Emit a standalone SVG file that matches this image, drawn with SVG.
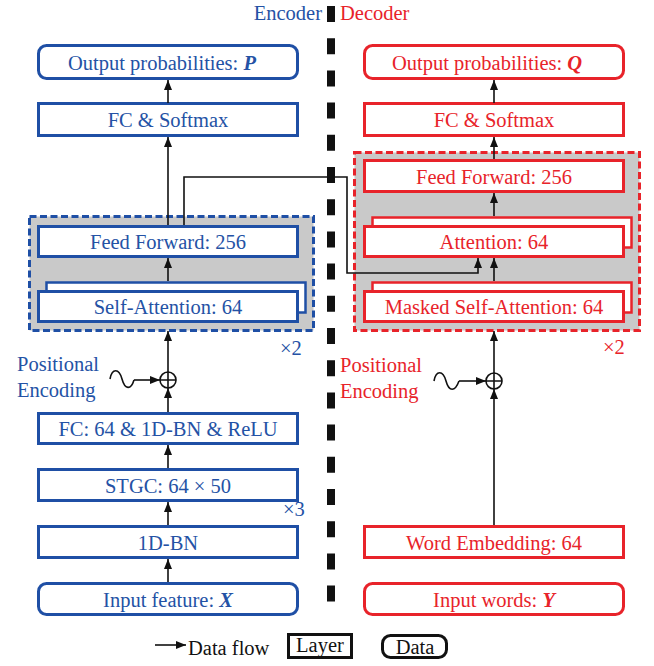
<svg xmlns="http://www.w3.org/2000/svg" width="654" height="666" viewBox="0 0 654 666">
<defs>
<style>
text{font-family:Liberation Serif,DejaVu Serif,serif;font-size:20.5px}
.b{stroke:#1f4fa5;fill:#fff;stroke-width:3}
.r{stroke:#e8232a;fill:#fff;stroke-width:3}
.bk{stroke:#1f4fa5;fill:#fff;stroke-width:2.5}
.rk{stroke:#e8232a;fill:#fff;stroke-width:2.5}
.bd{stroke:#1f4fa5;fill:#c9c9c9;stroke-width:3;stroke-dasharray:7 3.5}
.rd{stroke:#e8232a;fill:#c9c9c9;stroke-width:3;stroke-dasharray:7 3.5}
.tb{fill:#2452a5;text-anchor:middle}
.tr{fill:#e8232a;text-anchor:middle}
.lb{fill:#2452a5}
.lr{fill:#e8232a}
.a{stroke:#111;stroke-width:1.6;fill:none;marker-end:url(#ah)}
.l{stroke:#111;stroke-width:1.6;fill:none}
.v{font-weight:bold;font-style:italic}
</style>
<marker id="ah" markerUnits="userSpaceOnUse" markerWidth="10" markerHeight="8" viewBox="0 0 10 8" refX="10" refY="4" orient="auto">
<path d="M0,0 L10,4 L0,8 z" fill="#111"/>
</marker>
</defs>
<rect width="654" height="666" fill="#fff"/>

<!-- center divider -->
<line x1="331" y1="6" x2="331" y2="602" stroke="#111" stroke-width="8" stroke-dasharray="16 16.2"/>
<text x="322" y="20" class="lb" text-anchor="end">Encoder</text>
<text x="340" y="20" class="lr">Decoder</text>

<!-- encoder -->
<g id="enc-output"><rect class="b" x="38.5" y="45.5" width="259" height="33" rx="8"/><text class="tb" x="162" y="70">Output probabilities: <tspan class="v">P</tspan></text></g>
<g id="enc-fc-softmax"><rect class="b" x="38.5" y="103.5" width="259" height="32"/><text class="tb" x="168" y="127">FC &amp; Softmax</text></g>
<g id="enc-block"><rect class="bd" x="29.5" y="216.5" width="284" height="114"/></g>
<g id="enc-ff"><rect class="b" x="38.5" y="226.5" width="259" height="30"/><text class="tb" x="168" y="249">Feed Forward: 256</text></g>
<g id="enc-sa"><rect class="bk" x="46.5" y="282.5" width="259" height="30"/><rect class="b" x="38.5" y="291.5" width="259" height="30"/><text class="tb" x="168" y="314">Self-Attention: 64</text></g>
<g id="enc-x2"><text class="lb" x="280" y="355">×2</text></g>
<g id="enc-pe"><text class="lb" x="17" y="371">Positional</text><text class="lb" x="17" y="397">Encoding</text>
<path class="l" d="M110,379 C112,368 119,368 122,379 C125,390 131,390 134,380"/>
<circle cx="168" cy="380" r="8" fill="#fff" stroke="#111" stroke-width="1.6"/><path class="l" d="M160,380 H176 M168,372 V388"/></g>
<g id="enc-fc64"><rect class="b" x="38.5" y="413.5" width="259" height="30"/><text class="tb" x="168" y="436">FC: 64 &amp; 1D-BN &amp; ReLU</text></g>
<g id="enc-stgc"><rect class="b" x="38.5" y="469.5" width="259" height="31"/><text class="tb" x="168" y="492.5">STGC: 64 × 50</text></g>
<g id="enc-x3"><text class="lb" x="283" y="516">×3</text></g>
<g id="enc-bn"><rect class="b" x="38.5" y="526.5" width="259" height="31"/><text class="tb" x="168" y="549.5">1D-BN</text></g>
<g id="enc-input"><rect class="b" x="38.5" y="583.5" width="259" height="31" rx="8"/><text class="tb" x="168" y="606.5">Input feature: <tspan class="v">X</tspan></text></g>

<!-- decoder -->
<g id="dec-output"><rect class="r" x="364.5" y="45.5" width="259" height="33" rx="8"/><text class="tr" x="487" y="70">Output probabilities: <tspan class="v">Q</tspan></text></g>
<g id="dec-fc-softmax"><rect class="r" x="364.5" y="103.5" width="259" height="32"/><text class="tr" x="494" y="127">FC &amp; Softmax</text></g>
<g id="dec-block"><rect class="rd" x="354.5" y="152.5" width="285" height="178"/></g>
<g id="dec-ff"><rect class="r" x="364.5" y="160.5" width="259" height="31"/><text class="tr" x="494" y="183.5">Feed Forward: 256</text></g>
<g id="dec-att"><rect class="rk" x="372.5" y="217.5" width="259" height="30"/><rect class="r" x="364.5" y="226.5" width="259" height="30"/><text class="tr" x="494" y="249">Attention: 64</text></g>
<g id="dec-msa"><rect class="rk" x="372.5" y="282.5" width="259" height="30"/><rect class="r" x="364.5" y="291.5" width="259" height="30"/><text class="tr" x="494" y="314">Masked Self-Attention: 64</text></g>
<g id="dec-x2"><text class="lr" x="603" y="354">×2</text></g>
<g id="dec-pe"><text class="lr" x="340" y="372">Positional</text><text class="lr" x="340" y="398">Encoding</text>
<path class="l" d="M434,381 C436,370 443,370 446,381 C449,392 455,392 459,381"/>
<circle cx="494" cy="381" r="8" fill="#fff" stroke="#111" stroke-width="1.6"/><path class="l" d="M486,381 H502 M494,373 V389"/></g>
<g id="dec-we"><rect class="r" x="364.5" y="526.5" width="259" height="31"/><text class="tr" x="494" y="549.5">Word Embedding: 64</text></g>
<g id="dec-input"><rect class="r" x="364.5" y="583.5" width="259" height="31" rx="8"/><text class="tr" x="494" y="606.5">Input words: <tspan class="v">Y</tspan></text></g>

<!-- connectors -->
<g id="connectors">
<path class="a" d="M168,103 V80"/>
<path class="a" d="M168,225 V137"/>
<path class="a" d="M168,281 V258"/>
<path class="a" d="M168,372 V331"/>
<path class="a" d="M134,380 H160"/>
<path class="a" d="M168,412 V388"/>
<path class="a" d="M168,468 V445"/>
<path class="a" d="M168,525 V502"/>
<path class="a" d="M168,582 V559"/>
<path class="a" d="M184,225 V177 H347 V273 H478 V258"/>
<path class="a" d="M494,103 V80"/>
<path class="a" d="M494,159 V137"/>
<path class="a" d="M494,216 V193"/>
<path class="a" d="M494,281 V258"/>
<path class="a" d="M494,373 V331"/>
<path class="a" d="M459,381 H486"/>
<path class="a" d="M494,525 V389"/>
</g>

<!-- legend -->
<g id="legend">
<path class="a" d="M155,645 H186"/>
<text x="188" y="655" fill="#111">Data flow</text>
<rect x="288.5" y="634.5" width="63" height="23" fill="#fff" stroke="#111" stroke-width="3"/>
<text x="320" y="652" fill="#111" text-anchor="middle">Layer</text>
<rect x="382.5" y="635.5" width="64" height="22" rx="8" fill="#fff" stroke="#111" stroke-width="3"/>
<text x="415" y="654" fill="#111" text-anchor="middle">Data</text>
</g>
</svg>
